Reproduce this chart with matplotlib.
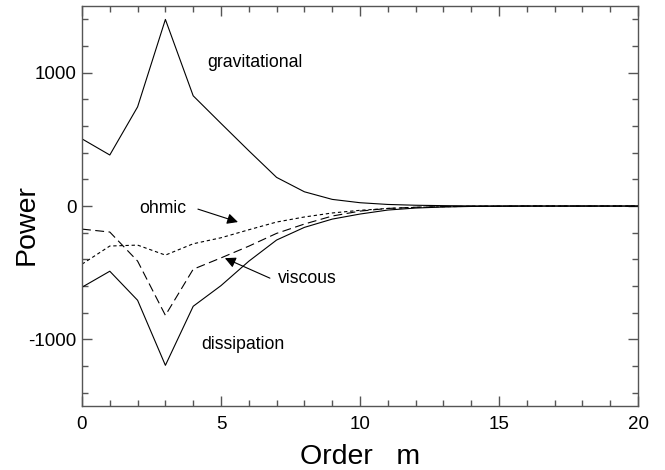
import numpy as np
import matplotlib
matplotlib.use("Agg")
import matplotlib.pyplot as plt
from matplotlib.ticker import MultipleLocator

plt.rcParams['font.family'] = ['Liberation Sans', 'DejaVu Sans']
plt.rcParams['axes.unicode_minus'] = False

# power budget per azimuthal order
order_m = list(range(21))
gravitational = [504, 383, 744, 1400, 827, 620, 415, 215, 107, 50, 25, 12, 6, 3, 1, 0, 0, 0, 0, 0, 0]
ohmic = [-436, -300, -293, -368, -283, -238, -178, -120, -82, -52, -32, -18, -10, -5, -2, -1, 0, 0, 0, 0, 0]
viscous = [-173, -195, -413, -820, -474, -389, -301, -205, -135, -75, -38, -18, -9, -4, -2, -1, 0, 0, 0, 0, 0]
dissipation = [-609, -489, -707, -1195, -752, -597, -414, -255, -160, -98, -60, -30, -15, -7, -3, -1, 0, 0, 0, 0, 0]

axis_grey = "#555555"

fig = plt.figure(figsize=(6.65, 4.70), dpi=100)
ax = fig.add_axes([0.1233, 0.1362, 0.8361, 0.8508])

ax.plot(order_m, gravitational, color="black", lw=0.8)
ax.plot(order_m, dissipation, color="black", lw=0.8)
ax.plot(order_m, ohmic, color="black", lw=0.8, dashes=(3, 2.5))
ax.plot(order_m, viscous, color="black", lw=0.8, dashes=(8, 4))

ax.set_xlim(0, 20)
ax.set_ylim(-1500, 1500)
ax.xaxis.set_major_locator(MultipleLocator(5))
ax.xaxis.set_minor_locator(MultipleLocator(1))
ax.set_yticks([-1000, 0, 1000])
ax.yaxis.set_minor_locator(MultipleLocator(200))

ax.tick_params(which="both", direction="in", top=True, right=True,
               color=axis_grey, width=1.0, labelsize=13.5)
ax.tick_params(axis="x", pad=7)
ax.tick_params(axis="y", pad=4)
ax.tick_params(which="major", length=7)
ax.tick_params(which="minor", length=4)
for sp in ax.spines.values():
    sp.set_color(axis_grey)
    sp.set_linewidth(1.0)

ax.set_xlabel("Order   m", fontsize=20.5, labelpad=8)
ax.set_ylabel("Power", fontsize=20.5, va="center")
ax.yaxis.set_label_coords(-0.099, 0.4525)

# curve labels
ax.text(4.5, 1075, "gravitational", fontsize=12.7, ha="left", va="center")
ax.text(5.8, -1038, "dissipation", fontsize=12.7, ha="center", va="center")
ax.text(2.9, -15, "ohmic", fontsize=12.7, ha="center", va="center")
ax.text(8.1, -541, "viscous", fontsize=12.7, ha="center", va="center")

arrow = dict(arrowstyle="-|>", color="black", lw=0.8, mutation_scale=16,
             shrinkA=0, shrinkB=0)
ax.annotate("", xy=(5.61, -120), xytext=(4.17, -23), arrowprops=arrow)
ax.annotate("", xy=(5.14, -391), xytext=(6.76, -541), arrowprops=arrow)

fig.savefig("out.png", dpi=100)
